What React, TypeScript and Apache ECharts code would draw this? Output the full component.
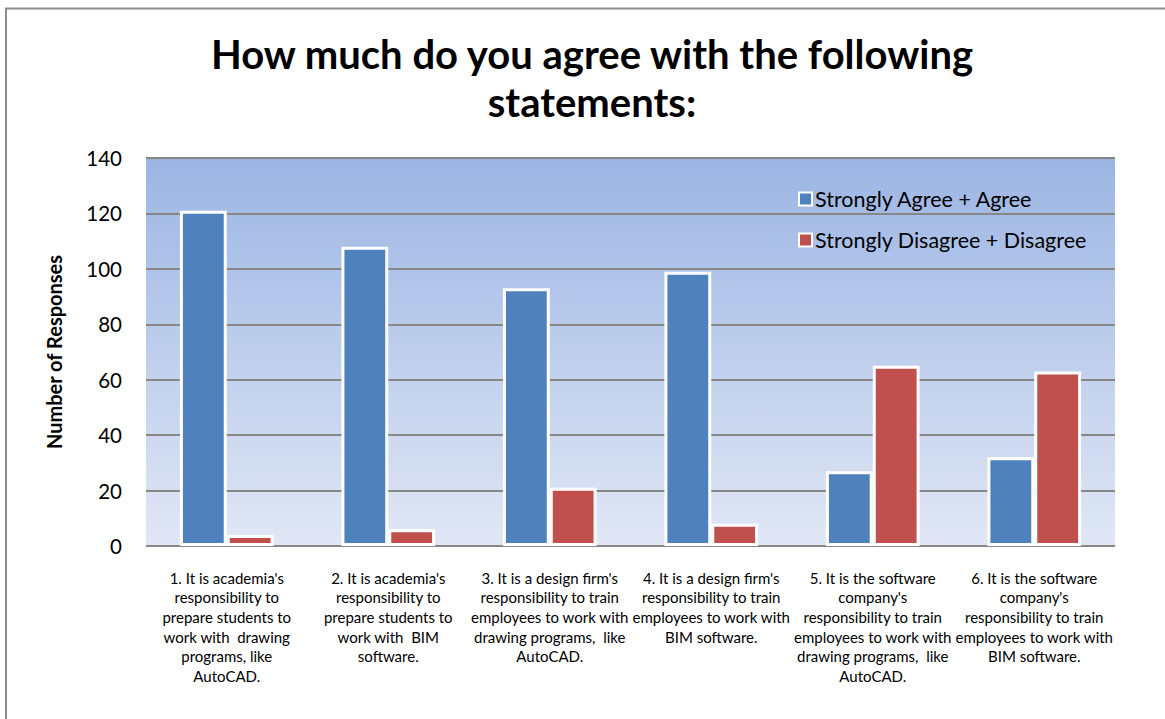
import React, { useEffect, useRef } from "react";
import * as echarts from "echarts";

const categories = [
  "1. It is academia's\nresponsibility to\nprepare students to\nwork with  drawing\nprograms, like\nAutoCAD.",
  "2. It is academia's\nresponsibility to\nprepare students to\nwork with  BIM\nsoftware.",
  "3. It is a design firm's\nresponsibility to train\nemployees to work with\ndrawing programs,  like\nAutoCAD.",
  "4. It is a design firm's\nresponsibility to train\nemployees to work with\nBIM software.",
  "5. It is the software\ncompany's\nresponsibility to train\nemployees to work with\ndrawing programs,  like\nAutoCAD.",
  "6. It is the software\ncompany's\nresponsibility to train\nemployees to work with\nBIM software.",
];
const agree = [121, 108, 93, 99, 27, 32];
const disagree = [4, 6, 21, 8, 65, 63];
const seriesNames = ["Strongly Agree + Agree", "Strongly Disagree + Disagree"];
const titleText = "How much do you agree with the following\nstatements:";
const yAxisName = "Number of Responses";

const FONT = "Lato, 'Open Sans', sans-serif";

export default function App() {
  const ref = useRef<HTMLDivElement>(null);
  useEffect(() => {
    if (!ref.current) return;
    const chart = echarts.init(ref.current, undefined, { renderer: "svg" });
    chart.setOption({
      animation: false,
      backgroundColor: "#ffffff",
      textStyle: { fontFamily: FONT },
      title: {
        text: titleText,
        left: 587,
        top: 25,
        textAlign: "center",
        textStyle: {
          fontFamily: FONT,
          fontSize: 40,
          fontWeight: "bold",
          color: "#000",
          lineHeight: 48,
        },
      },
      graphic: [
        {
          type: "polyline",
          shape: { points: [[6, 719], [6, 8.5], [1165, 8.5]] },
          style: { fill: "none", stroke: "#8c8c8c", lineWidth: 2 },
          silent: true,
        },
      ],
      legend: {
        orient: "vertical",
        left: 793,
        top: 183,
        itemGap: 19,
        itemWidth: 13,
        itemHeight: 13,
        icon: "rect",
        textStyle: { fontFamily: FONT, fontSize: 21.5, color: "#000", padding: [0, 0, 0, -2] },
        itemStyle: { borderColor: "#fff", borderWidth: 2 },
        data: seriesNames,
      },
      grid: {
        left: 146,
        right: 50,
        top: 158,
        bottom: 173,
        show: true,
        borderWidth: 0,
        backgroundColor: new echarts.graphic.LinearGradient(0, 0, 0, 1, [
          { offset: 0, color: "#9bb5e3" },
          { offset: 1, color: "#e1e7f5" },
        ]),
      },
      xAxis: {
        type: "category",
        data: categories,
        axisLine: { show: false },
        axisTick: { show: false },
        axisLabel: {
          interval: 0,
          margin: 22,
          fontFamily: FONT,
          fontSize: 15,
          lineHeight: 19.6,
          color: "#000",
          align: "center",
        },
      },
      yAxis: {
        type: "value",
        min: 0,
        max: 140,
        interval: 20,
        name: yAxisName,
        nameLocation: "middle",
        nameGap: 82,
        nameTextStyle: { fontFamily: FONT, fontSize: 20, fontWeight: "bold", color: "#000" },
        axisLine: { show: false },
        axisTick: { show: false },
        axisLabel: { fontFamily: FONT, fontSize: 20.5, color: "#000", margin: 24 },
        splitLine: { lineStyle: { color: "#878787", width: 2 } },
      },
      series: [
        {
          name: seriesNames[0],
          type: "bar",
          data: agree,
          barWidth: "29%",
          barGap: "0%",
          itemStyle: { color: "#4f81bd", borderColor: "#fff", borderWidth: 3 },
        },
        {
          name: seriesNames[1],
          type: "bar",
          data: disagree,
          barWidth: "29%",
          barGap: "0%",
          itemStyle: { color: "#c0504d", borderColor: "#fff", borderWidth: 3 },
        },
      ],
    });
    return () => chart.dispose();
  }, []);
  return (
    <div
      ref={ref}
      style={{ position: "fixed", left: 0, top: 0, width: 1165, height: 719 }}
    />
  );
}
